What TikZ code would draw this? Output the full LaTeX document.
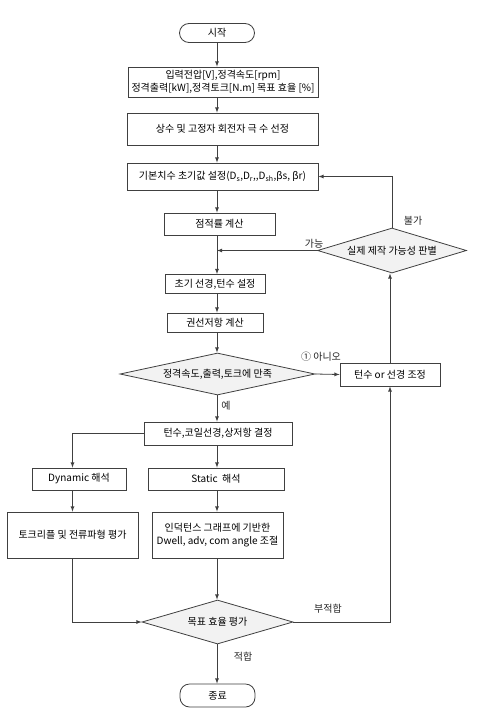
\documentclass[tikz,border=0pt]{standalone}
\usepackage{fontspec}
\setmainfont{Noto Sans CJK KR}
\usetikzlibrary{positioning,shapes.geometric}
\definecolor{linegray}{HTML}{404040}
\definecolor{decfill}{HTML}{F2F2F2}

\begin{document}
\begin{tikzpicture}[x=1pt,y=-1pt,font=\fontsize{10}{13}\selectfont,
proc/.style={draw=linegray,fill=white,line width=0.8pt,inner sep=0pt,align=center},
dec/.style={diamond,draw=linegray,fill=decfill,line width=0.8pt,inner sep=0pt,aspect=4},
term/.style={proc,rounded corners=9.5pt},
conn/.style={-latex,line width=0.8pt,draw=linegray},
lbl/.style={inner sep=1pt,text=black!85}]
 \useasboundingbox[fill=white] (0,0) rectangle (486,712);

 \node[term,minimum width=75pt,minimum height=19pt] (start) at (217,33) {시작};
 \node[proc,minimum width=190pt,minimum height=30pt] (input) at (223,82)
 {입력전압[V],정격속도[rpm]\\정격출력[kW],정격토크[N.m] 목표 효율 [\%]};
 \node[proc,minimum width=191pt,minimum height=32pt] (poles) at (222.5,129)
 {상수 및 고정자 회전자 극 수 선정};
 \node[proc,minimum width=191pt,minimum height=27pt] (init) at (222.5,176.5)
 {기본치수 초기값 설정(D\textsubscript{s},D\textsubscript{r}{,}{,}D\textsubscript{sh},βs, βr)};
 \node[proc,minimum width=111pt,minimum height=22pt] (fillf) at (219.5,224) {점적률 계산};
 \node[dec,minimum width=149pt,minimum height=45pt] (make) at (392,250.5) {실제 제작 가능성 판별};
 \node[proc,minimum width=100pt,minimum height=19pt] (wire) at (215,284) {초기 선경,턴수 설정};
 \node[proc,minimum width=96pt,minimum height=19pt] (resist) at (215,322.5) {권선저항 계산};
 \node[dec,minimum width=195pt,minimum height=42pt] (rated) at (217.5,374) {정격속도,출력,토크에 만족};
 \node[proc,minimum width=100pt,minimum height=23pt] (adjust) at (390,374.5) {턴수 or 선경 조정};
 \node[proc,minimum width=148pt,minimum height=23pt] (coil) at (218,433.5) {턴수,코일선경,상저항 결정};
 \node[proc,minimum width=94pt,minimum height=22pt] (dyn) at (79,479) {Dynamic 해석};
 \node[proc,minimum width=136pt,minimum height=22pt] (stat) at (216,479) {Static\ \ 해석};
 \node[proc,minimum width=131pt,minimum height=46pt] (ripple) at (72.5,535) {토크리플 및 전류파형 평가};
 \node[proc,minimum width=131pt,minimum height=46pt] (induct) at (217.5,535)
 {인덕턴스 그래프에 기반한\\Dwell, adv, com angle 조절};
 \node[dec,minimum width=151pt,minimum height=44pt] (eff) at (217.5,622) {목표 효율 평가};
 \node[term,minimum width=75pt,minimum height=23pt] (stop) at (217.5,695.5) {종료};

 % main column
 \draw[conn] (start) -- (input.north -| start);
 \draw[conn] (input.south -| start) -- (poles.north -| start);
 \draw[conn] (poles.south -| start) -- (init.north -| start);
 \draw[conn] (init.south -| start) -- (fillf.north -| start);
 \draw[conn] (fillf.south -| start) -- (wire.north -| start);
 \draw[conn] (wire.south -| start) -- (resist.north -| start);
 \draw[conn] (resist.south -| start) -- (rated.north -| start);
 \draw[conn] (rated.south -| start) -- (coil.north -| start);
 \draw[conn] (coil.south -| start) -- (stat.north -| start);
 \draw[conn] (stat.south -| start) -- (induct.north -| start);
 \draw[conn] (induct.south -| start) -- (eff.north -| start);
 \draw[conn] (eff.south -| start) -- (stop.north -| start);

 % feedback loops
 \draw[conn] (make.west) -- (make.west -| start);
 \draw[conn] (make.north) |- (init.east);
 \draw[conn] (rated.east) -- (adjust.west);
 \draw[conn] (adjust.north) -- (adjust.north |- make.south);
 \draw[conn] (eff.east) -| (adjust.south);

 % dynamic branch
 \draw[conn] (coil.west) -| (dyn.north -| ripple.north);
 \draw[conn] (dyn.south -| ripple.north) -- (ripple.north);
 \draw[conn] (ripple.south) |- (eff.west);

 % labels
 \node[lbl] (nogo) at (413,221) {불가};
 \node[lbl] (go) at (314,244) {가능};
 \node[lbl] (no) at (321,357) {① 아니오};
 \node[lbl] (yes) at (226,406) {예};
 \node[lbl] (fail) at (328,609) {부적합};
 \node[lbl] (pass) at (243,657) {적합};
\end{tikzpicture}
\end{document}
